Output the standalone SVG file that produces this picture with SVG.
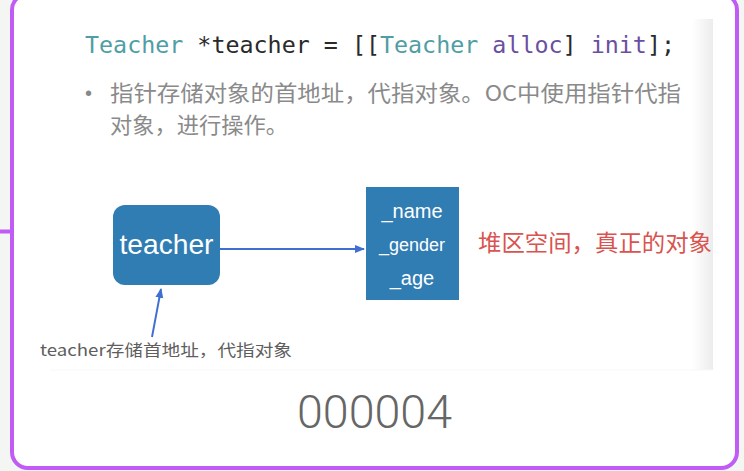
<svg xmlns="http://www.w3.org/2000/svg" width="744" height="471" viewBox="0 0 744 471">
<defs>
<linearGradient id="shade" x1="0" y1="0" x2="1" y2="0">
<stop offset="0" stop-color="#ffffff"/>
<stop offset="1" stop-color="#ececec"/>
</linearGradient>
<marker id="ah" viewBox="0 0 10 10" refX="9" refY="5" markerWidth="5" markerHeight="5" orient="auto">
<path d="M0,1 L10,5 L0,9 z" fill="#3f6fd0"/>
</marker>
<style>
.code{font-family:"DejaVu Sans Mono","Liberation Mono",monospace;font-size:23px}
.cjk{font-family:"Noto Sans CJK SC","Noto Sans",sans-serif}
.box{fill:#2f7db3}
.wt{fill:#ffffff;font-family:"Liberation Sans","Noto Sans",sans-serif}
.conn{stroke:#3f6fd0;stroke-width:2;fill:none}
</style>
</defs>
<rect x="0" y="0" width="744" height="471" fill="#f4f6f4"/>
<line x1="0" y1="231.5" x2="12" y2="231.5" stroke="#c05cf5" stroke-width="4"/>
<rect x="12" y="-6" width="725" height="474" rx="16" fill="#ffffff" stroke="#c05cf5" stroke-width="4"/>
<rect x="692" y="19" width="21" height="351" fill="url(#shade)"/>
<line x1="50" y1="370" x2="712" y2="370" stroke="#f8f8f8" stroke-width="1"/>
<text class="code" x="85" y="53" textLength="590" lengthAdjust="spacingAndGlyphs"><tspan fill="#4f9ea5">Teacher</tspan><tspan fill="#2a2a2a"> *teacher = [[</tspan><tspan fill="#4f9ea5">Teacher</tspan><tspan fill="#6a4f9f"> alloc</tspan><tspan fill="#2a2a2a">] </tspan><tspan fill="#6a4f9f">init</tspan><tspan fill="#2a2a2a">];</tspan></text>
<text x="85" y="100" fill="#888888" font-family="Liberation Sans,sans-serif" font-size="20">•</text>
<text class="cjk" x="110" y="101" fill="#8a8a8a" font-size="22" textLength="571" lengthAdjust="spacingAndGlyphs">指针存储对象的首地址，代指对象。OC中使用指针代指</text>
<text class="cjk" x="110" y="133" fill="#8a8a8a" font-size="22" textLength="178" lengthAdjust="spacingAndGlyphs">对象，进行操作。</text>
<g id="connectors">
<line class="conn" x1="220" y1="249" x2="364" y2="249" marker-end="url(#ah)"/>
<line class="conn" x1="152" y1="337" x2="161" y2="289" marker-end="url(#ah)"/>
</g>
<g id="teacher">
<rect class="box" x="113" y="205" width="107" height="80" rx="12"/>
<text class="wt" x="166.5" y="254" font-size="28" text-anchor="middle" textLength="94" lengthAdjust="spacingAndGlyphs">teacher</text>
</g>
<g id="object">
<rect class="box" x="366" y="187" width="93" height="113"/>
<text class="wt" x="412" y="218" font-size="20" text-anchor="middle">_name</text>
<text class="wt" x="412" y="251" font-size="18" text-anchor="middle">_gender</text>
<text class="wt" x="412" y="285" font-size="20" text-anchor="middle">_age</text>
</g>
<text class="cjk" x="478" y="251" fill="#d9534f" font-size="23" textLength="234" lengthAdjust="spacingAndGlyphs">堆区空间，真正的对象</text>
<text class="cjk" x="40" y="356" fill="#5e5e5e" font-size="16" textLength="252" lengthAdjust="spacingAndGlyphs">teacher存储首地址，代指对象</text>
<text x="374.5" y="428" fill="#666666" font-family="Roboto,Lato,'Liberation Sans',sans-serif" font-weight="300" font-size="46" text-anchor="middle" textLength="155" lengthAdjust="spacingAndGlyphs">000004</text>
</svg>
